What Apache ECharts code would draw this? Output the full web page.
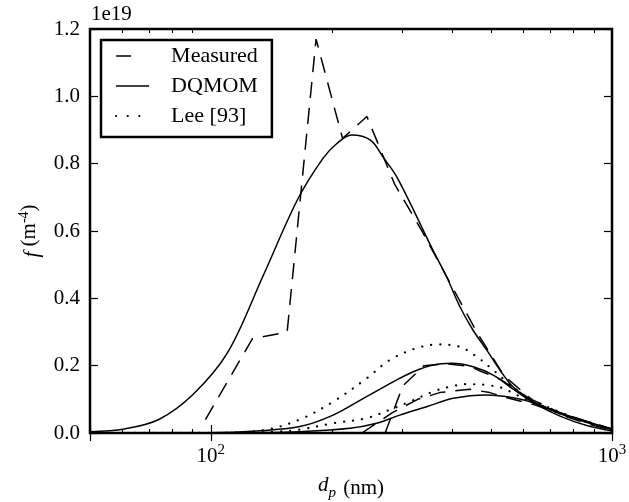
<!DOCTYPE html>
<html>
<head>
<meta charset="utf-8">
<script src="https://cdn.jsdelivr.net/npm/echarts@6/dist/echarts.min.js"></script>
<style>
  html, body { margin: 0; padding: 0; background: #fff; }
  #chart { width: 629px; height: 502px; }
</style>
</head>
<body>
<div id="chart"></div>
<script>
// Number density f(d_p), in units of 1e19 m^-4, against particle diameter d_p in nm.

// Measured distributions
const measuredX1 = [97, 127, 155, 183, 213, 245, 287, 336, 393, 460, 538, 630, 737, 862, 1000];
const measuredY1 = [0.04, 0.28, 0.30, 1.17, 0.875, 0.94, 0.74, 0.60, 0.45, 0.30, 0.17, 0.10, 0.062, 0.035, 0.012];
const measuredX2 = [272, 301, 340, 388, 442, 474, 526, 566, 636, 742, 866, 1000];
const measuredY2 = [0.0, 0.14, 0.20, 0.205, 0.198, 0.182, 0.16, 0.135, 0.095, 0.055, 0.028, 0.008];
const measuredX3 = [238, 283, 328, 372, 442, 496, 566, 636, 742, 866, 1000];
const measuredY3 = [0.0, 0.06, 0.10, 0.12, 0.13, 0.12, 0.10, 0.085, 0.057, 0.031, 0.010];

// DQMOM solutions
const dqmomX1 = [50, 60.9, 74.2, 90.4, 110.3, 134.8, 164.8, 190.2, 206.2, 224.3, 250, 268.6, 292.6, 357.8, 387, 417.8, 450.2, 487, 525.6, 566.4, 635.4, 741.9, 866.4, 1000];
const dqmomY1 = [0.004, 0.012, 0.04, 0.115, 0.24, 0.465, 0.695, 0.815, 0.86, 0.885, 0.87, 0.82, 0.755, 0.543, 0.464, 0.375, 0.306, 0.247, 0.187, 0.1375, 0.093, 0.059, 0.034, 0.010];
const dqmomX2 = [50, 100, 130, 166.7, 201.8, 244.4, 284.9, 319.5, 358.4, 398, 450.8, 505.8, 567.5, 636.4, 741.9, 864.9, 1000];
const dqmomY2 = [0.0, 0.001, 0.006, 0.019, 0.053, 0.108, 0.152, 0.182, 0.202, 0.207, 0.197, 0.172, 0.13, 0.09, 0.05, 0.022, 0.006];
const dqmomX3 = [50, 100, 130, 166.7, 222.2, 258.9, 296, 345.2, 402, 487, 567.5, 636.4, 741.9, 864.9, 1000];
const dqmomY3 = [0.0, 0.0, 0.001, 0.004, 0.014, 0.029, 0.053, 0.078, 0.103, 0.113, 0.105, 0.09, 0.06, 0.033, 0.012];

// Lee [93] model
const leeX1 = [50, 100, 118, 140.3, 166.7, 201.8, 244.4, 279.5, 325.9, 369, 417.8, 459.8, 505.8, 547, 612.6, 741.9, 866, 1000];
const leeY1 = [0.0, 0.0, 0.002, 0.012, 0.04, 0.093, 0.162, 0.217, 0.252, 0.263, 0.256, 0.227, 0.187, 0.152, 0.108, 0.062, 0.034, 0.012];
const leeX2 = [50, 120, 145, 166.7, 201.8, 244.4, 284.9, 313.5, 358.4, 394.5, 434, 487, 535.7, 567.5, 636, 742, 866, 1000];
const leeY2 = [0.0, 0.001, 0.004, 0.01, 0.029, 0.044, 0.073, 0.093, 0.123, 0.1375, 0.145, 0.1425, 0.133, 0.118, 0.09, 0.058, 0.032, 0.012];

// Axis ticks
const xMinorTicks = [60, 70, 80, 90, 200, 300, 400, 500, 600, 700, 800, 900];
const yMin = 0, yMax = 1.2, yStep = 0.2;
const xMin = 50, xMax = 1000;

const FONT = 'Liberation Serif';
const pairs = (xs, ys) => xs.map((x, i) => [x, ys[i]]);

const STYLES = {
  'Measured': { type: [16, 10], width: 1.5, smooth: false },
  'DQMOM': { type: 'solid', width: 1.5, smooth: 0.35 },
  'Lee [93]': { type: [0.1, 9], width: 2.2, smooth: 0.35, cap: 'round' }
};

function curve(name, xs, ys) {
  const s = STYLES[name];
  return {
    name: name,
    type: 'line',
    data: pairs(xs, ys),
    symbol: 'none',
    smooth: s.smooth,
    animation: false,
    itemStyle: { color: '#000' },
    lineStyle: { color: '#000', width: s.width, type: s.type, cap: s.cap || 'butt' },
    z: 3
  };
}

const series = [
  curve('Measured', measuredX1, measuredY1),
  curve('Measured', measuredX2, measuredY2),
  curve('Measured', measuredX3, measuredY3),
  curve('DQMOM', dqmomX1, dqmomY1),
  curve('DQMOM', dqmomX2, dqmomY2),
  curve('DQMOM', dqmomX3, dqmomY3),
  curve('Lee [93]', leeX1, leeY1),
  curve('Lee [93]', leeX2, leeY2)
];

function powLabel(v) {
  const e = Math.log10(v);
  if (Math.abs(e - Math.round(e)) > 1e-6) return '';
  return '{b|10}{sup|' + Math.round(e) + '}';
}

const tickStyle = { show: true, inside: true, length: 8, lineStyle: { color: '#000', width: 1.2 } };
const xAxisBase = {
  type: 'log', logBase: 10, min: xMin, max: xMax,
  axisLine: { show: false }, splitLine: { show: false },
  axisTick: tickStyle
};
const yAxisBase = {
  type: 'value', min: yMin, max: yMax, interval: yStep,
  axisLine: { show: false }, splitLine: { show: false },
  axisTick: tickStyle
};

const chart = echarts.init(document.getElementById('chart'), null, { renderer: 'canvas' });

chart.setOption({
  animation: false,
  backgroundColor: '#fff',
  textStyle: { fontFamily: FONT },
  grid: {
    left: 90, right: 17, top: 29, bottom: 69,
    outerBoundsMode: 'none', containLabel: false,
    show: true, borderColor: '#000', borderWidth: 2.5, backgroundColor: 'transparent'
  },
  xAxis: [
    Object.assign({}, xAxisBase, {
      position: 'bottom',
      name: '{i|d}{sub|p} (nm)',
      nameLocation: 'middle',
      nameGap: 42,
      nameTextStyle: {
        fontFamily: FONT, fontSize: 21, color: '#000',
        rich: {
          i: { fontFamily: FONT, fontStyle: 'italic', fontSize: 21, lineHeight: 26, verticalAlign: 'top' },
          sub: { fontFamily: FONT, fontStyle: 'italic', fontSize: 15, lineHeight: 26, verticalAlign: 'bottom', padding: [0, 2, 0, 0] }
        }
      },
      axisLabel: {
        margin: 10, color: '#000', formatter: powLabel,
        rich: {
          b: { fontFamily: FONT, fontSize: 21, lineHeight: 24, verticalAlign: 'bottom', color: '#000' },
          sup: { fontFamily: FONT, fontSize: 15, lineHeight: 24, verticalAlign: 'top', color: '#000' }
        }
      }
    }),
    Object.assign({}, xAxisBase, { position: 'top', axisLabel: { show: false } })
  ],
  yAxis: [
    Object.assign({}, yAxisBase, {
      position: 'left',
      name: '{i|f} (m{sup|-4})',
      nameLocation: 'middle',
      nameGap: 38,
      nameTextStyle: {
        fontFamily: FONT, fontSize: 21, color: '#000',
        rich: {
          i: { fontFamily: FONT, fontStyle: 'italic', fontSize: 21, lineHeight: 26, verticalAlign: 'bottom' },
          sup: { fontFamily: FONT, fontSize: 14, lineHeight: 26, verticalAlign: 'top' }
        }
      },
      axisLabel: { margin: 10, color: '#000', fontFamily: FONT, fontSize: 21, formatter: v => v.toFixed(1) }
    }),
    Object.assign({}, yAxisBase, { position: 'right', axisLabel: { show: false } })
  ],
  legend: {
    left: 101, top: 40, orient: 'vertical',
    backgroundColor: '#fff', borderColor: '#000', borderWidth: 2.5, borderRadius: 0,
    padding: [5, 14, 10, 14],
    itemWidth: 33, itemHeight: 14, itemGap: 8,
    selectedMode: false,
    itemStyle: { opacity: 0 },
    textStyle: { fontFamily: FONT, fontSize: 22, color: '#000', lineHeight: 22, padding: [0, 0, 0, 17] },
    data: [
      { name: 'Measured', itemStyle: { opacity: 0 }, lineStyle: { type: [15, 40], color: '#000', width: 1.5 } },
      { name: 'DQMOM', itemStyle: { opacity: 0 }, lineStyle: { type: 'solid', color: '#000', width: 1.5 } },
      { name: 'Lee [93]', itemStyle: { opacity: 0 }, lineStyle: { type: [0.1, 11.5], cap: 'round', color: '#000', width: 2.2 } }
    ]
  },
  series: series
});

// Minor ticks of the log axis on the bottom and top edges, plus the y offset label.
const yBottom = chart.convertToPixel({ yAxisIndex: 0 }, yMin);
const yTop = chart.convertToPixel({ yAxisIndex: 0 }, yMax);
const graphics = [];
xMinorTicks.forEach(v => {
  const px = Math.round(chart.convertToPixel({ xAxisIndex: 0 }, v)) + 0.5;
  graphics.push({ type: 'line', silent: true, z: 10, shape: { x1: px, y1: yBottom, x2: px, y2: yBottom - 4 }, style: { stroke: '#000', lineWidth: 1.1 } });
  graphics.push({ type: 'line', silent: true, z: 10, shape: { x1: px, y1: yTop, x2: px, y2: yTop + 4 }, style: { stroke: '#000', lineWidth: 1.1 } });
});
graphics.push({ type: 'text', left: 91, top: 4, silent: true, style: { text: '1e19', font: '21px "Liberation Serif"', fill: '#000' } });
chart.setOption({ graphic: graphics });
</script>
</body>
</html>
